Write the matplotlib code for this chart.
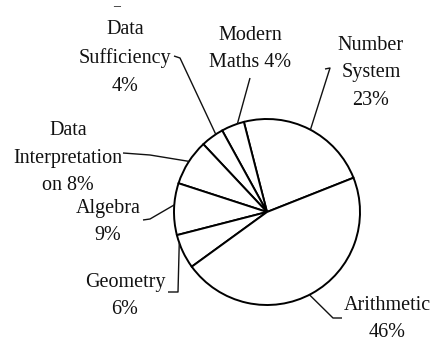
import numpy as np
import matplotlib
matplotlib.use("Agg")
import matplotlib.pyplot as plt

# topic shares, in the order the wedges go round (counter-clockwise)
topics = ["Number System", "Modern Maths", "Data Sufficiency",
          "Data Interpretation", "Algebra", "Geometry", "Arithmetic"]
shares = [23, 4, 4, 8, 9, 6, 46]
label_text = ["Number\nSystem\n23%", "Modern\nMaths 4%", "Data\nSufficiency\n4%",
              "Data\nInterpretation\non 8%", "Algebra\n9%", "Geometry\n6%",
              "Arithmetic\n46%"]

plt.rcParams['font.family'] = ['Liberation Serif', 'DejaVu Serif']

W, H = 434, 343
CX, CY, R = 267, 212, 93  # pie centre and radius in pixels


def px(x, y):
    return (x - CX) / R, (CY - y) / R


fig = plt.figure(figsize=(W / 100, H / 100), dpi=100)
ax = fig.add_axes([0, 0, 1, 1])
wedges, _ = ax.pie(shares, startangle=21.6, colors=['white'] * len(shares),
                   wedgeprops=dict(edgecolor='black', linewidth=1.4))
ax.set_xlim(-CX / R, (W - CX) / R)
ax.set_ylim(-(H - CY) / R, CY / R)
ax.set_aspect('auto')
ax.axis('off')

# label layout: text centre, where along the wedge the leader touches, leader elbow points
layout = {
    "Number System": ((371, 73), 0.49, [(325, 69), (330, 68)]),
    "Modern Maths": ((250, 49), 0.29, [(250, 78)]),
    "Data Sufficiency": ((125, 58), 0.32, [(174, 56), (180, 58)]),
    "Data Interpretation": ((68, 158), 0.48, [(123, 153), (150, 155)]),
    "Algebra": ((108, 222), 0.42, [(143, 220), (150, 219)]),
    "Geometry": ((125, 296), 0.23, [(168, 292), (178, 292)]),
    "Arithmetic": ((387, 319), 0.49, [(342, 318), (333, 318)]),
}

for w, name, txt in zip(wedges, topics, label_text):
    (tx, ty), t, elbow = layout[name]
    ang = np.radians(w.theta1 + t * (w.theta2 - w.theta1))
    ax_, ay_ = np.cos(ang), np.sin(ang)
    pts = [px(*p) for p in elbow] + [(ax_, ay_)]
    xs, ys = zip(*pts)
    ax.plot(xs, ys, color='#111111', lw=1.0, solid_capstyle='butt')
    x, y = px(tx, ty)
    ax.text(x, y, txt, ha='center', va='center', multialignment='center',
            fontsize=14.5, linespacing=1.62, color='#111111')

x, y = px(117, 7)
ax.text(x, y, "–", ha='center', va='center', fontsize=10, color='#111111')

fig.savefig("out.png", dpi=100)
